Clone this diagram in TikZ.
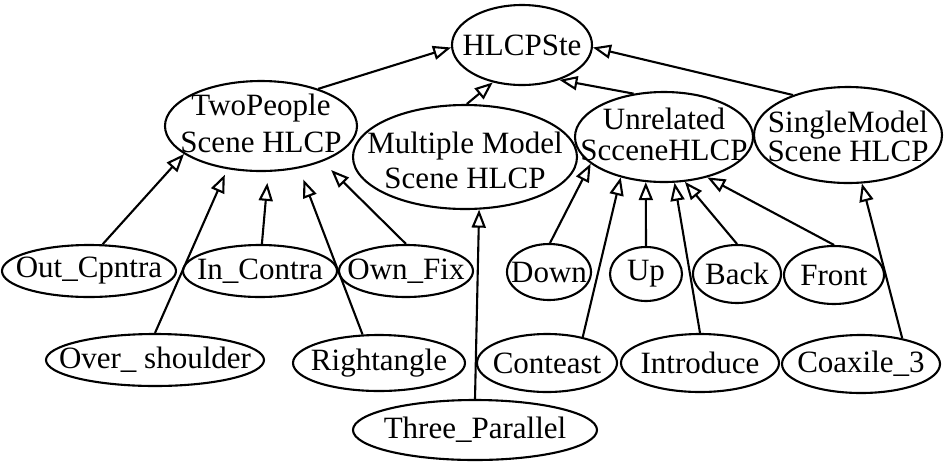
\documentclass[tikz,border=0pt]{standalone}
\usepackage{fontspec}
\setmainfont{Liberation Serif}
\usetikzlibrary{shapes.geometric,positioning,arrows.meta}

\tikzset{
  blob/.style={ellipse, draw, line width=2.1pt, inner sep=0pt},
  sz/.style 2 args={minimum width=#1, minimum height=#2},
  isa/.style={-{Triangle[open,length=18pt,width=14pt]}, line width=2.1pt},
}

\begin{document}
\begin{tikzpicture}[x=1pt,y=-1pt,on grid,font=\fontsize{31}{37}\selectfont,every label/.style={align=center}]
        \useasboundingbox (0,0) rectangle (945,467);
        \node[blob,sz={140pt}{80pt},label=center:HLCPSte] (hl) at (522,45) {};
        \node[blob,sz={192pt}{90pt},label={[yshift=3pt,font=\fontsize{31}{37}\selectfont]center:TwoPeople\\Scene HLCP}] (tp) [below left = 81pt and 261pt of hl] {};
        \node[blob,sz={224pt}{104pt},label={[yshift=-3pt,font=\fontsize{31}{35}\selectfont]center:Multiple Model\\Scene HLCP}] (mm) [below left = 112pt and 57pt of hl] {};
        \node[blob,sz={178pt}{90pt},label={[yshift=3pt,font=\fontsize{31}{31}\selectfont]center:Unrelated\\ScceneHLCP}] (un) [below right = 92pt and 142pt of hl] {};
        \node[blob,sz={188pt}{96pt},label={[yshift=-1pt,font=\fontsize{31}{29}\selectfont]center:SingleModel\\Scene HLCP}] (sm) [below right = 90pt and 326pt of hl] {};
        \node[blob,sz={174pt}{52pt},label=center:Out\_Cpntra] (oc) [below left = 145pt and 172pt of tp] {};
        \node[blob,sz={154pt}{52pt},label=center:In\_Contra] (ic) [below left = 145pt and 1pt of tp] {};
        \node[blob,sz={134pt}{52pt},label=center:Own\_Fix] (of) [below right = 145pt and 145pt of tp] {};
        \node[blob,sz={218pt}{52pt},label=center:Over\_ shoulder] (os) [below left = 234pt and 106pt of tp] {};
        \node[blob,sz={172pt}{56pt},label=center:Rightangle] (ra) [below right = 237pt and 118pt of tp] {};
        \node[blob,sz={244pt}{60pt},label=center:Three\_Parallel] (tpar) [below right = 273pt and 10pt of mm] {};
        \node[blob,sz={84pt}{56pt},label=center:Down] (dn) [below left = 135pt and 115pt of un] {};
        \node[blob,sz={72pt}{54pt},label=center:Up] (up) [below left = 137pt and 18pt of un] {};
        \node[blob,sz={88pt}{58pt},label=center:Back] (bk) [below right = 137pt and 73pt of un] {};
        \node[blob,sz={100pt}{58pt},label=center:Front] (fr) [below right = 138pt and 170pt of un] {};
        \node[blob,sz={140pt}{58pt},label=center:Conteast] (ct) [below left = 226pt and 117pt of un] {};
        \node[blob,sz={158pt}{58pt},label=center:Introduce] (in) [below right = 226pt and 36pt of un] {};
        \node[blob,sz={158pt}{58pt},label=center:Coaxile\_3] (cx) [below right = 229pt and 13pt of sm] {};
        \path[isa]
        (tp.33) edge (hl.182)
        (mm.88) edge (hl.-128)
        (un.125) edge (hl.-43)
        (sm.144) edge (hl.-2)
        (oc.63) edge (tp.-160)
        (os.90) edge [shorten >=6pt] (tp.-128)
        (ic.86) edge [shorten >=11pt] (tp.-81)
        (ra.120) edge [shorten >=12pt] (tp.-48)
        (of.90) edge [shorten >=12pt] (tp.-30)
        (tpar.90) edge (mm.-75)
        (dn.88) edge (un.200)
        (ct.36) edge (un.-137)
        (up.90) edge (un.-112)
        (in.90) edge (un.-77)
        (bk.90) edge (un.-65)
        (fr.90) edge (un.-43)
        (cx.32) edge (sm.-74)
        ;
      \end{tikzpicture}
\end{document}
